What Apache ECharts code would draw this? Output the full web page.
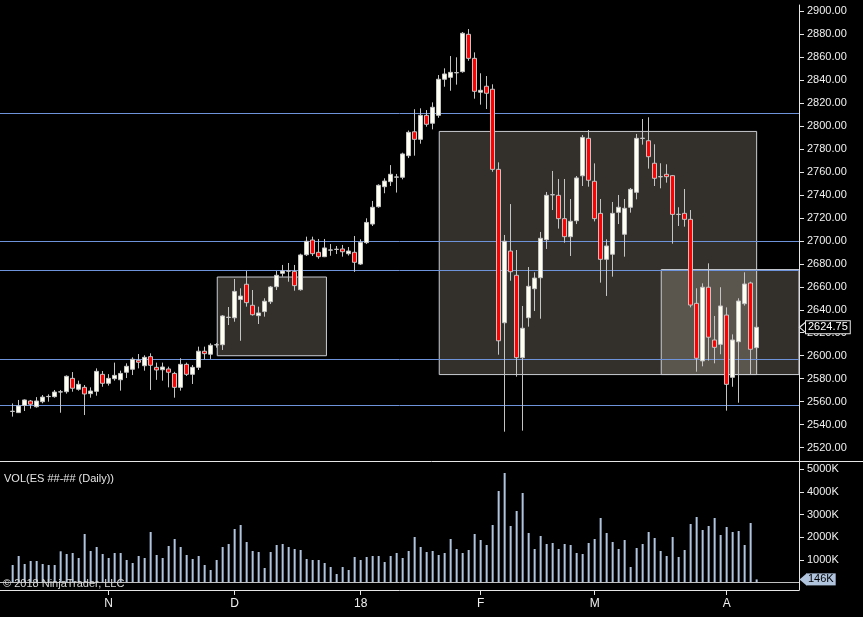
<!DOCTYPE html>
<html>
<head>
<meta charset="utf-8">
<style>
  html, body { margin: 0; padding: 0; background: #000; }
  #chart { width: 863px; height: 617px; }
</style>
<script src="https://cdn.jsdelivr.net/npm/echarts@6/dist/echarts.min.js"></script>
</head>
<body>
<div id="chart"></div>
<script>
// daily ES bars, index 0 = first bar on the left
const opens = [
  2551.5, 2550.5, 2556.8, 2560.6, 2555.6, 2560.0, 2564.4, 2564.4, 2568.4, 2568.7,
  2580.3, 2570.8, 2572.5, 2567.0, 2569.0, 2583.8, 2576.0, 2580.0, 2579.1, 2585.6,
  2588.2, 2596.0, 2591.3, 2599.2, 2589.9, 2587.8, 2588.5, 2584.6, 2572.5, 2592.5,
  2583.8, 2589.9, 2603.9, 2601.3, 2609.4, 2609.6, 2633.3, 2633.0, 2649.0, 2662.2,
  2643.9, 2634.9, 2638.4, 2647.0, 2660.1, 2671.7, 2673.6, 2673.4, 2657.5, 2687.9,
  2700.7, 2690.0, 2686.2, 2691.9, 2692.5, 2692.9, 2688.8, 2690.0, 2679.8, 2698.4,
  2714.6, 2729.7, 2747.1, 2751.5, 2755.4, 2755.3, 2774.1, 2794.9, 2788.3, 2809.2,
  2802.3, 2809.2, 2840.6, 2842.3, 2846.2, 2847.2, 2879.7, 2858.8, 2829.3, 2834.5,
  2831.9, 2762.2, 2628.7, 2691.1, 2670.0, 2598.3, 2633.1, 2658.3, 2667.9, 2701.0,
  2740.0, 2739.6, 2719.3, 2703.6, 2717.5, 2756.6, 2789.2, 2751.8, 2723.9, 2683.9,
  2688.3, 2724.8, 2705.7, 2729.2, 2742.2, 2789.1, 2787.1, 2767.5, 2755.7, 2757.9,
  2756.7, 2722.9, 2723.9, 2718.7, 2645.6, 2595.5, 2659.6, 2613.7, 2609.9, 2635.4,
  2581.2, 2612.2, 2645.3, 2663.3, 2607.0
];
const closes = [
  2551.7, 2556.3, 2561.5, 2557.8, 2560.6, 2564.0, 2564.6, 2568.4, 2568.6, 2582.1,
  2571.7, 2575.1, 2566.7, 2569.3, 2586.4, 2576.0, 2580.3, 2582.9, 2584.6, 2590.8,
  2596.9, 2594.3, 2598.6, 2591.7, 2587.6, 2590.2, 2585.6, 2572.5, 2592.5, 2583.8,
  2589.9, 2603.9, 2601.8, 2609.1, 2609.6, 2634.6, 2633.5, 2656.0, 2651.9, 2646.2,
  2635.7, 2637.2, 2647.4, 2659.8, 2670.0, 2673.7, 2673.8, 2661.0, 2687.7, 2699.6,
  2688.8, 2686.2, 2693.8, 2692.1, 2692.7, 2690.5, 2691.1, 2681.3, 2698.7, 2716.0,
  2729.2, 2748.3, 2752.0, 2757.9, 2755.6, 2775.6, 2794.4, 2788.3, 2809.2, 2801.4,
  2816.2, 2840.6, 2845.2, 2846.6, 2846.4, 2880.6, 2858.8, 2830.1, 2831.0, 2828.4,
  2762.2, 2613.0, 2699.6, 2673.1, 2598.3, 2623.9, 2660.4, 2667.6, 2702.2, 2739.6,
  2740.2, 2719.3, 2703.6, 2717.0, 2754.7, 2790.0, 2752.7, 2719.3, 2683.9, 2695.5,
  2723.9, 2729.2, 2728.3, 2744.8, 2789.2, 2789.3, 2773.2, 2754.4, 2755.9, 2755.8,
  2723.0, 2723.1, 2718.7, 2644.1, 2597.8, 2659.6, 2616.1, 2607.3, 2643.3, 2575.1,
  2613.7, 2647.6, 2662.4, 2605.6, 2624.75
];
const lows = [
  2547.0, 2550.4, 2551.9, 2554.0, 2554.8, 2558.6, 2560.0, 2563.5, 2550.4, 2567.0,
  2568.7, 2569.6, 2548.4, 2563.5, 2565.2, 2573.0, 2574.0, 2578.3, 2569.6, 2580.6,
  2583.2, 2589.0, 2587.0, 2570.2, 2579.0, 2578.3, 2572.5, 2563.5, 2569.6, 2582.4,
  2575.4, 2587.6, 2596.9, 2597.2, 2607.0, 2605.0, 2626.7, 2629.6, 2613.0, 2642.7,
  2634.9, 2627.6, 2634.0, 2645.0, 2657.2, 2668.8, 2664.4, 2656.6, 2656.6, 2686.8,
  2686.8, 2684.4, 2685.8, 2687.0, 2688.5, 2686.2, 2687.2, 2673.0, 2679.0, 2697.2,
  2712.9, 2728.8, 2741.4, 2747.7, 2742.0, 2753.5, 2772.0, 2774.1, 2784.5, 2799.3,
  2797.0, 2807.1, 2834.1, 2830.6, 2835.9, 2846.3, 2856.7, 2823.7, 2818.5, 2814.7,
  2760.1, 2600.9, 2533.9, 2665.3, 2581.8, 2534.8, 2625.3, 2638.9, 2632.2, 2692.9,
  2726.8, 2710.6, 2698.4, 2686.8, 2714.6, 2747.7, 2747.1, 2716.9, 2663.6, 2652.0,
  2668.8, 2714.6, 2686.2, 2724.5, 2736.1, 2783.7, 2762.8, 2747.7, 2745.7, 2750.6,
  2697.5, 2712.9, 2712.3, 2642.1, 2586.1, 2590.8, 2595.7, 2593.4, 2601.3, 2552.2,
  2573.0, 2559.1, 2643.6, 2584.1, 2603.0
];
const highs = [
  2558.5, 2561.5, 2562.0, 2561.5, 2564.0, 2565.8, 2566.4, 2570.2, 2570.2, 2582.9,
  2585.8, 2578.3, 2574.5, 2572.5, 2589.0, 2586.7, 2584.0, 2594.0, 2587.0, 2593.4,
  2598.6, 2601.5, 2600.4, 2602.1, 2594.0, 2594.0, 2590.5, 2586.0, 2597.8, 2594.0,
  2591.9, 2607.9, 2607.9, 2610.8, 2611.0, 2635.4, 2642.4, 2666.8, 2658.7, 2673.7,
  2657.2, 2642.7, 2650.0, 2660.7, 2673.7, 2679.0, 2680.7, 2679.0, 2688.8, 2703.6,
  2703.6, 2701.6, 2701.6, 2697.2, 2695.5, 2696.4, 2694.6, 2704.2, 2701.3, 2719.6,
  2734.7, 2749.2, 2754.4, 2765.9, 2758.2, 2776.7, 2796.0, 2814.5, 2815.3, 2813.8,
  2820.5, 2844.3, 2850.1, 2860.8, 2859.7, 2881.7, 2884.3, 2864.0, 2845.8, 2843.4,
  2836.2, 2768.3, 2705.1, 2732.0, 2692.0, 2643.3, 2677.2, 2672.6, 2707.7, 2742.5,
  2760.8, 2753.8, 2753.8, 2736.4, 2756.4, 2792.1, 2796.4, 2767.4, 2736.4, 2701.3,
  2733.8, 2739.9, 2736.4, 2746.0, 2793.0, 2806.0, 2807.5, 2784.0, 2767.5, 2766.6,
  2757.3, 2729.2, 2745.1, 2726.8, 2658.7, 2663.0, 2680.4, 2634.6, 2659.6, 2642.1,
  2618.6, 2650.0, 2672.6, 2664.4, 2628.2
];
// volume in thousands of contracts
const volumes = [
  780, 1178, 825, 957, 957, 825, 780, 780, 1385, 1266,
  1310, 1090, 2148, 1398, 1575, 1266, 1090, 1310, 1310, 1001,
  869, 1178, 1090, 2236, 1222, 1090, 1619, 1928, 1575, 1222,
  1045, 1178, 780, 560, 1001, 1575, 1707, 2369, 2545, 1795,
  1398, 1354, 648, 1354, 1663, 1707, 1575, 1487, 1442, 1045,
  1001, 1001, 869, 692, 383, 692, 560, 1134, 1001, 1134,
  1178, 1178, 913, 1178, 1310, 1090, 1398, 2016, 1575, 1354,
  1398, 1222, 1310, 1928, 1487, 1310, 1442, 2148, 1884, 1663,
  2545, 4045, 4839, 2501, 3163, 3957, 2192, 1487, 2060, 1707,
  1751, 1487, 1707, 1663, 1310, 1266, 1751, 1928, 2854, 2192,
  1795, 1487, 1884, 692, 1531, 1707, 2236, 1972, 1398, 1178,
  2016, 1134, 1442, 2590, 2898, 2325, 2501, 2854, 2104, 2457,
  2236, 2280, 1663, 2634, 146
];
const monthTickIdx = [16, 37, 58, 78, 97, 119];
const monthTickLabels = ['N', 'D', '18', 'F', 'M', 'A'];
const priceTicks = [2520, 2540, 2560, 2580, 2600, 2620, 2640, 2660, 2680, 2700, 2720, 2740, 2760, 2780, 2800, 2820, 2840, 2860, 2880, 2900];
const volumeTicks = [1000, 2000, 3000, 4000, 5000];
// drawn horizontal levels and zones: [x1, y1, x2, y2] in bar index / price
const levels = [2810.9, 2700, 2674.1, 2597, 2557];
const zones = [
  [34.1, 2668.5, 52.3, 2600.0],
  [71.1, 2795.2, 124.0, 2583.6],
  [108.1, 2675.0, 131.05, 2583.6]
];
const lastPrice = 2624.75;
const lastVolume = 146;

const X_MIN = -2.11, X_MAX = 131.06;
const FONT = '"Liberation Sans", Arial, sans-serif';
const AXIS_COLOR = '#e6e6e6';

const candleData = opens.map((o, i) => [i, o, closes[i], lows[i], highs[i]]);
const volumeData = volumes.map((v, i) => [i, v]);

function rightAxis(grid, min, max, ticks, fmt) {
  return {
    type: 'value', gridIndex: grid, position: 'right', min: min, max: max,
    axisLine: { show: true, onZero: false, lineStyle: { color: AXIS_COLOR, width: 1 } },
    axisTick: { show: true, length: 5, customValues: ticks, lineStyle: { color: AXIS_COLOR } },
    axisLabel: { customValues: ticks, margin: 8, color: '#f0f0f0', fontSize: 11, fontFamily: FONT, formatter: fmt },
    splitLine: { show: false }
  };
}

const chart = echarts.init(document.getElementById('chart'));
chart.setOption({
  backgroundColor: '#000',
  animation: false,
  textStyle: { fontFamily: FONT },
  grid: [
    { left: 0, top: 5, width: 799, height: 456 },
    { left: 0, top: 461, width: 799, height: 129 }
  ],
  xAxis: [
    { type: 'value', gridIndex: 0, min: X_MIN, max: X_MAX, show: false },
    {
      type: 'value', gridIndex: 1, min: X_MIN, max: X_MAX,
      axisLine: { show: true, onZero: false, lineStyle: { color: AXIS_COLOR, width: 1 } },
      axisTick: { show: true, length: 5, customValues: monthTickIdx, lineStyle: { color: AXIS_COLOR } },
      axisLabel: {
        customValues: monthTickIdx, margin: 8, color: '#f0f0f0', fontSize: 12, fontFamily: FONT,
        formatter: v => monthTickLabels[monthTickIdx.indexOf(Math.round(v))] || ''
      },
      splitLine: { show: false }
    }
  ],
  yAxis: [
    rightAxis(0, 2508.39, 2905.22, priceTicks, v => v.toFixed(2)),
    rightAxis(1, -322, 5368, volumeTicks, v => v + 'K')
  ],
  series: [
    {
      name: 'zones', type: 'line', xAxisIndex: 0, yAxisIndex: 0, data: [], z: 1, silent: true,
      markArea: {
        z: 1, silent: true,
        itemStyle: { color: 'rgba(255,240,215,0.2)', borderColor: '#c9ccd2', borderWidth: 1 },
        data: zones.map(b => [{ xAxis: b[0], yAxis: b[1] }, { xAxis: b[2], yAxis: b[3] }])
      }
    },
    {
      name: 'levels', type: 'line', xAxisIndex: 0, yAxisIndex: 0, data: [], z: 2, silent: true,
      markLine: {
        z: 2, silent: true, symbol: ['none', 'none'],
        lineStyle: { color: '#6f93db', width: 1, type: 'solid' },
        label: { show: false },
        data: levels.map(p => ({ yAxis: p }))
      }
    },
    {
      name: 'ES', type: 'candlestick', xAxisIndex: 0, yAxisIndex: 0, z: 4,
      encode: { x: 0, y: [1, 2, 3, 4] },
      barWidth: 4,
      itemStyle: {
        color: '#fffff2', color0: '#ff0000',
        borderColor: '#c4c4c4', borderColor0: '#c4c4c4', borderWidth: 1
      },
      data: candleData,
      markLine: {
        z: 6, silent: true, symbol: ['none', 'none'],
        lineStyle: { color: 'rgba(0,0,0,0)', width: 0 },
        label: {
          show: true, position: 'end', distance: 7, formatter: () => lastPrice.toFixed(2),
          color: '#ffffff', fontSize: 11, fontFamily: FONT,
          backgroundColor: '#000', borderColor: '#e8e8e8', borderWidth: 1, padding: [1, 2, 0, 2]
        },
        data: [{ yAxis: lastPrice }]
      },
      markPoint: {
        z: 6, silent: true,
        symbol: 'path://M7,0 L0,6 L7,12', symbolSize: [7, 12], symbolOffset: [4, 0],
        itemStyle: { color: 'rgba(0,0,0,0)', borderColor: '#e8e8e8', borderWidth: 1 },
        label: { show: false },
        data: [{ coord: [X_MAX, lastPrice] }]
      }
    },
    {
      name: 'VOL', type: 'bar', xAxisIndex: 1, yAxisIndex: 1, z: 3,
      barWidth: 2,
      itemStyle: { color: '#b0c4de' },
      data: volumeData,
      markLine: {
        z: 6, silent: true, symbol: ['none', 'none'],
        data: [
          { yAxis: 0, lineStyle: { color: '#c0c0c0', width: 1, type: 'solid' }, label: { show: false } },
          {
            yAxis: lastVolume, lineStyle: { color: 'rgba(0,0,0,0)', width: 0 },
            label: {
              show: true, position: 'end', distance: 7, formatter: () => lastVolume + 'K',
              color: '#000', fontSize: 11, fontFamily: FONT,
              backgroundColor: '#b0c4de', padding: [1, 2, 0, 2]
            }
          }
        ]
      },
      markPoint: {
        z: 6, silent: true,
        symbol: 'path://M0,6 L7,0 L7,12 Z', symbolSize: [7, 12], symbolOffset: [4, 0],
        itemStyle: { color: '#b0c4de' },
        label: { show: false },
        data: [{ coord: [X_MAX, lastVolume] }]
      }
    }
  ],
  graphic: [
    { type: 'line', silent: true, z: 10, shape: { x1: 0, y1: 461.5, x2: 863, y2: 461.5 }, style: { stroke: AXIS_COLOR, lineWidth: 1 } },
    { type: 'text', silent: true, z: 10, left: 4, top: 473, style: { text: 'VOL(ES ##-## (Daily))', fill: '#e6e6e6', font: '11px ' + FONT } },
    { type: 'text', silent: true, z: 10, left: 3, top: 578, style: { text: '© 2018 NinjaTrader, LLC', fill: '#d8d8d8', font: '11px ' + FONT } }
  ]
});
</script>
</body>
</html>
